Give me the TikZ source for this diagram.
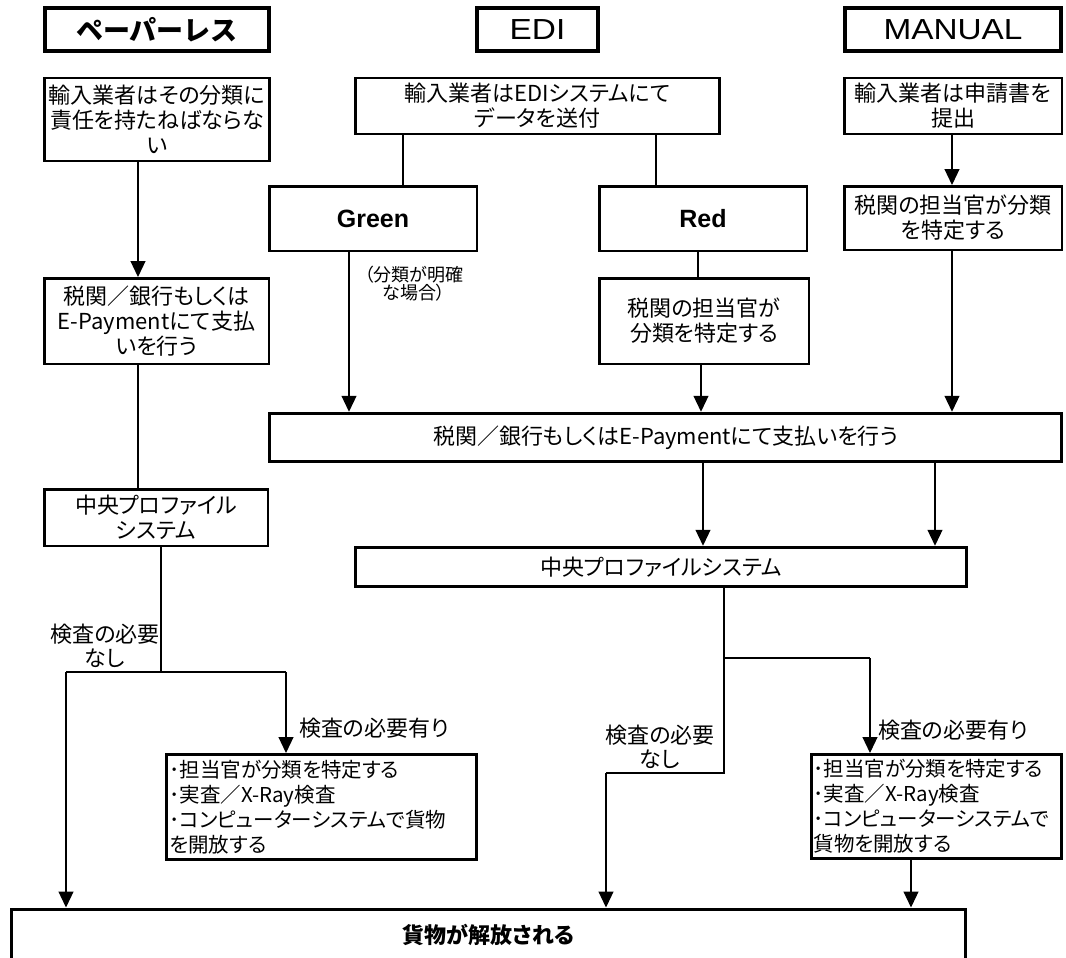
\documentclass[tikz,border=0pt]{standalone}
\usepackage{fontspec}
\setmainfont{Noto Sans CJK JP}[RawFeature=+palt]
\newfontfamily\headfont{Noto Sans CJK JP}
\newfontfamily\latinfont{Liberation Sans}
\usetikzlibrary{positioning,arrows.meta}
\tikzstyle{head}=[draw, line width=4pt, inner sep=0pt, minimum height=43pt, font=\headfont\fontsize{27}{30}\selectfont\bfseries]
\tikzstyle{block}=[draw, line width=2.5pt, inner sep=2pt, align=center, font=\fontsize{22}{25}\selectfont]
\tikzstyle{signal}=[block, minimum width=207.5pt, minimum height=64.5pt, font=\latinfont\fontsize{25}{28}\selectfont\bfseries]
\tikzstyle{check}=[block, line width=3pt, align=left, font=\fontsize{20.5}{25}\selectfont]
\tikzstyle{note}=[inner sep=0pt, align=center, font=\fontsize{22}{24}\selectfont]
\tikzstyle{arr}=[line width=1.2pt, -{Triangle[width=15pt,length=16pt]}]
\tikzstyle{wire}=[line width=1.2pt]

\begin{document}
\begin{tikzpicture}[x=1pt, y=-1pt]
	\useasboundingbox (0,0) rectangle (1066,958);
	\clip (0,0) rectangle (1066,958);

	\node[head, minimum width=224pt] (headPaper) at (157,29.5) {ペーパーレス};
	\node[head, minimum width=121pt, font=\latinfont\fontsize{29}{32}\selectfont] (headEdi) at (537.5,29.5) {\scalebox{1.15}[1]{EDI}};
	\node[head, minimum width=216pt, font=\latinfont\fontsize{29}{32}\selectfont] (headMan) at (953,29.5) {\scalebox{1.15}[1]{MANUAL}};

	\node[block, minimum width=225pt, minimum height=82.5pt] (impPaper) at (157,119.5) {輸入業者はその分類に\\責任を持たねばならな\\い};
	\node[block, minimum width=364pt, minimum height=55.5pt] (impEdi) at (537.5,106) {輸入業者はEDIシステムにて\\データを送付};
	\node[block, minimum width=217.5pt, minimum height=55.5pt] (impMan) at (953,106) {輸入業者は申請書を\\提出};

	\node[signal] (green) at (373,218.5) {Green};
	\node[signal] (red) at (703,218.5) {Red};
	\node[block, minimum width=217.5pt, minimum height=63.5pt] (classMan) at (953,218) {税関の担当官が分類\\を特定する};
	\node[note, font=\fontsize{18}{18}\selectfont] (noteClear) at (414,284) {（分類が明確\\な場合）};

	\node[block, minimum width=224.5pt, minimum height=85.5pt] (payPaper) at (156.5,321) {税関／銀行もしくは\\E-Paymentにて支払\\いを行う};
	\node[block, minimum width=209.5pt, minimum height=85.5pt] (classRed) at (704,321) {税関の担当官が\\分類を特定する};
	\node[block, line width=3pt, minimum width=792.5pt, minimum height=48.5pt] (payEdi) at (665.5,437.5) {税関／銀行もしくはE-Paymentにて支払いを行う};

	\node[block, minimum width=223.5pt, minimum height=56.5pt] (cpsPaper) at (156,517.5) {中央プロファイル\\システム};
	\node[block, line width=3pt, minimum width=611.5pt, minimum height=39.5pt] (cpsEdi) at (661,567) {中央プロファイルシステム};

	\node[check, minimum width=310pt, minimum height=105pt, text width=304pt] (inspPaper) at (321.5,807) {･担当官が分類を特定する\\･実査／X-Ray検査\\･コンピューターシステムで貨物\\を開放する};
	\node[check, minimum width=250pt, minimum height=104pt, text width=246pt] (inspEdi) at (936.5,806.5) {･担当官が分類を特定する\\･実査／X-Ray検査\\･コンピューターシステムで\\貨物を開放する};
	\node[block, line width=3pt, minimum width=954.5pt, minimum height=52pt, font=\fontsize{22}{25}\selectfont\bfseries] (release) at (488.5,935) {貨物が解放される};

	\node[note] (noPaperText) at (105,646) {検査の必要\\なし};
	\node[note, anchor=west] (yesPaperText) at (299,728) {検査の必要有り};
	\node[note] (noEdiText) at (660,747) {検査の必要\\なし};
	\node[note, anchor=west] (yesEdiText) at (878,730) {検査の必要有り};

	\coordinate (splitPaper) at (161,672);
	\coordinate (noPaper) at (66,672);
	\coordinate (yesPaper) at (286,672);
	\coordinate (splitEdi) at (724,658);
	\coordinate (yesEdi) at (870,658);
	\coordinate (bendEdi) at (724,773);
	\coordinate (noEdi) at (606,773);

	\path[arr] ([xshift=-19pt]impPaper.south) edge ([xshift=-19pt]impPaper.south |- payPaper.north);
	\path[wire] ([xshift=-18.5pt]payPaper.south) edge ([xshift=-18.5pt]payPaper.south |- cpsPaper.north);
	\draw[wire] (cpsPaper.south -| splitPaper) -- (splitPaper);
	\draw[wire] (noPaper) -- (yesPaper);
	\path[arr] (noPaper) edge (noPaper |- release.north);
	\path[arr] (yesPaper) edge (yesPaper |- inspPaper.north);

	\path[wire] ([xshift=30pt]green.north |- impEdi.south) edge ([xshift=30pt]green.north);
	\path[wire] ([xshift=-47pt]red.north |- impEdi.south) edge ([xshift=-47pt]red.north);
	\path[arr] ([xshift=-24pt]green.south) edge ([xshift=-24pt]green.south |- payEdi.north);
	\path[wire] ([xshift=-5pt]red.south) edge ([xshift=-5pt]red.south |- classRed.north);
	\path[arr] ([xshift=-3pt]classRed.south) edge ([xshift=-3pt]classRed.south |- payEdi.north);
	\path[arr] ([xshift=-1pt]impMan.south) edge ([xshift=-1pt]impMan.south |- classMan.north);
	\path[arr] ([xshift=-1pt]classMan.south) edge ([xshift=-1pt]classMan.south |- payEdi.north);

	\path[arr] ([xshift=42pt]cpsEdi.north |- payEdi.south) edge ([xshift=42pt]cpsEdi.north);
	\path[arr] ([xshift=274pt]cpsEdi.north |- payEdi.south) edge ([xshift=274pt]cpsEdi.north);
	\draw[wire] (cpsEdi.south -| splitEdi) -- (bendEdi) -- (noEdi);
	\draw[wire] (splitEdi) -- (yesEdi);
	\path[arr] (noEdi) edge (noEdi |- release.north);
	\path[arr] (yesEdi) edge (yesEdi |- inspEdi.north);
	\path[arr] ([xshift=-25.5pt]inspEdi.south) edge ([xshift=-25.5pt]inspEdi.south |- release.north);
\end{tikzpicture}
\end{document}
